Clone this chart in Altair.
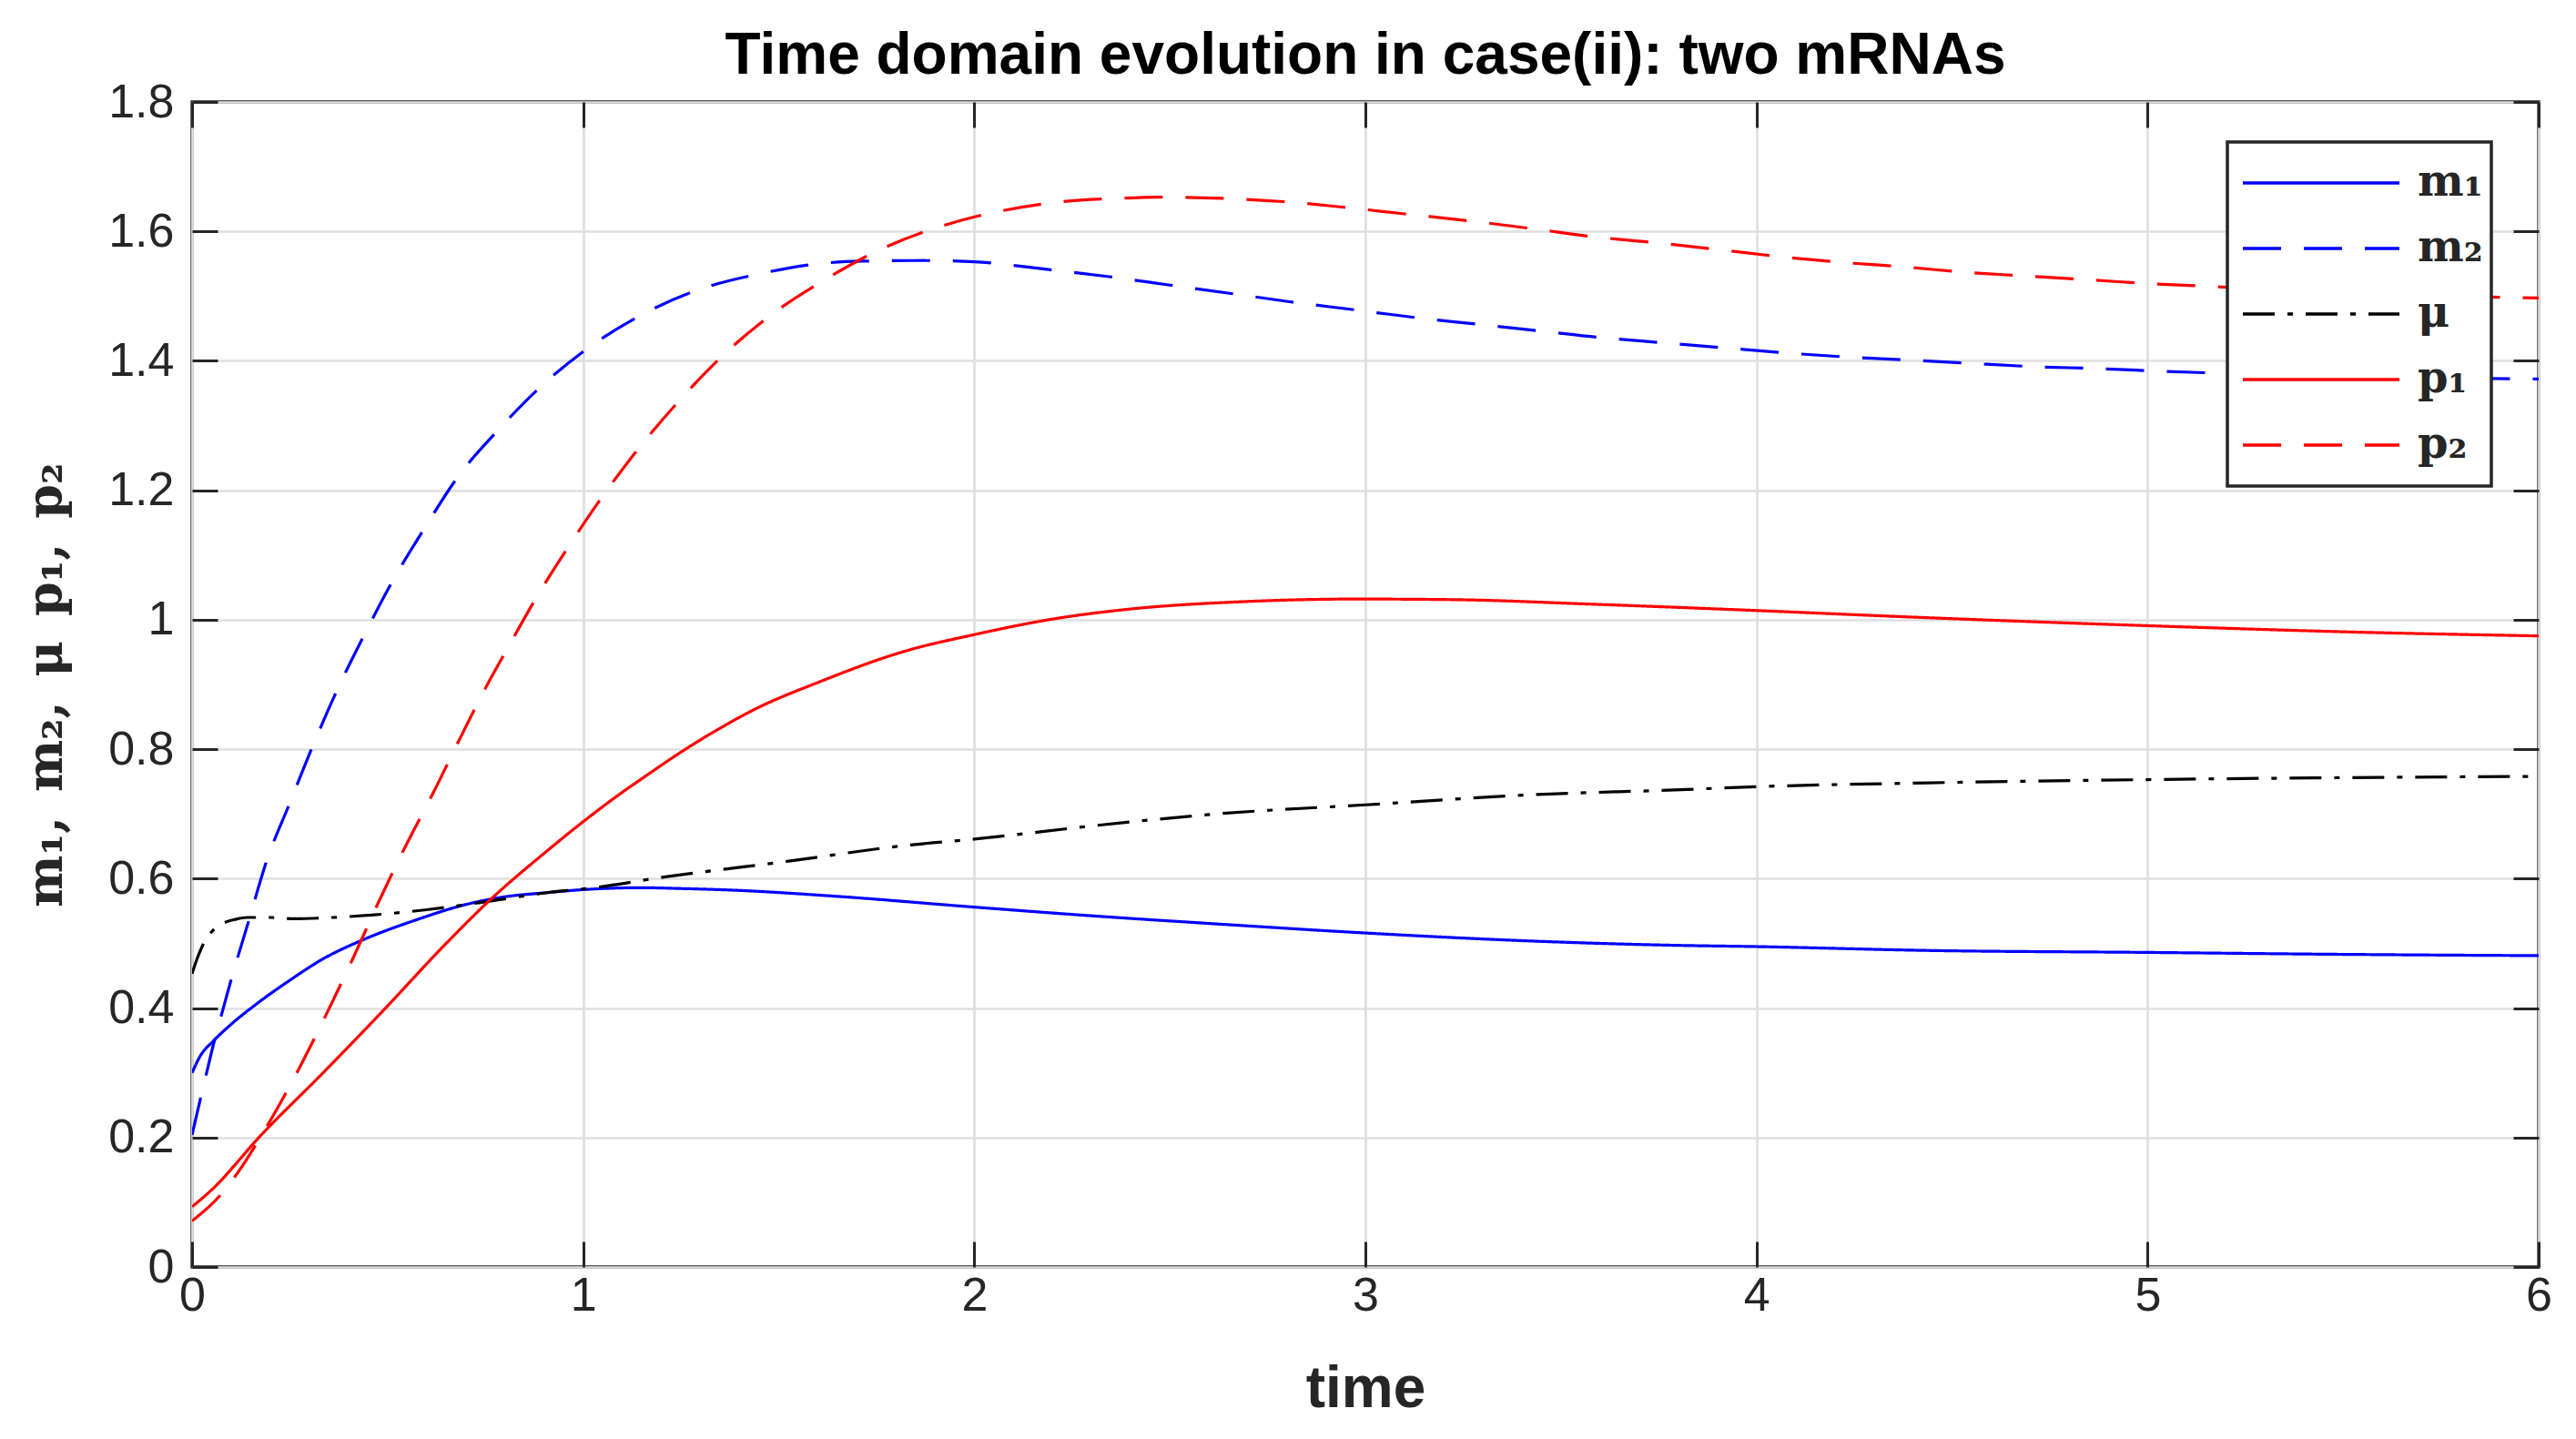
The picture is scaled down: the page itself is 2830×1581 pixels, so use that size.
import altair as alt
import pandas as pd

# DATA -------------------------------------------------------------------
t_m1 = [0, 0.02, 0.056, 0.1, 0.164, 0.25, 0.335, 0.443, 0.567, 0.7, 0.8, 0.9,
        1.0, 1.15, 1.23, 1.39, 1.64, 2.0, 2.29, 2.62, 3.0, 3.45, 3.79, 4.0,
        4.44, 5.0, 5.5, 6.0]
m1 = [0.30, 0.325, 0.35, 0.375, 0.406, 0.443, 0.476, 0.507, 0.535, 0.56, 0.572,
      0.578, 0.583, 0.586, 0.585, 0.582, 0.573, 0.556, 0.543, 0.53, 0.516, 0.503,
      0.497, 0.495, 0.489, 0.486, 0.483, 0.481]

t_m2 = [0, 0.021, 0.036, 0.056, 0.074, 0.1, 0.145, 0.19, 0.25, 0.308, 0.37,
        0.439, 0.513, 0.594, 0.68, 0.784, 0.893, 1.013, 1.149, 1.296, 1.448,
        1.6, 1.715, 1.87, 2.0, 2.19, 2.345, 2.5, 2.657, 2.81, 2.97, 3.126, 3.28,
        3.45, 3.6, 3.76, 3.92, 4.08, 4.23, 4.4, 4.55, 4.71, 4.875, 5.03, 5.18,
        5.5, 6.0]
m2 = [0.204, 0.259, 0.297, 0.347, 0.387, 0.444, 0.535, 0.626, 0.717, 0.804,
      0.89, 0.975, 1.06, 1.141, 1.221, 1.294, 1.361, 1.42, 1.471, 1.51, 1.534,
      1.55, 1.554, 1.555, 1.553, 1.541, 1.53, 1.517, 1.504, 1.491, 1.479, 1.467,
      1.457, 1.446, 1.436, 1.428, 1.42, 1.412, 1.406, 1.401, 1.396, 1.391,
      1.388, 1.384, 1.381, 1.376, 1.372]

t_mu = [0, 0.012, 0.025, 0.04, 0.052, 0.07, 0.087, 0.11, 0.14, 0.2, 0.26, 0.36,
        0.465, 0.6, 0.76, 0.916, 1.0, 1.214, 1.525, 1.835, 2.0, 2.31, 2.62, 3.0,
        3.44, 3.79, 4.0, 4.44, 5.0, 5.5, 6.0]
mu = [0.453, 0.475, 0.494, 0.51, 0.519, 0.528, 0.533, 0.537, 0.54, 0.54, 0.538,
      0.54, 0.544, 0.552, 0.565, 0.579, 0.584, 0.603, 0.627, 0.652, 0.661, 0.682,
      0.70, 0.714, 0.73, 0.737, 0.742, 0.748, 0.753, 0.756, 0.758]

t_p1 = [0, 0.048, 0.18, 0.335, 0.49, 0.645, 0.76, 0.904, 1.0, 1.099, 1.149,
        1.254, 1.366, 1.44, 1.6, 1.826, 2.0, 2.2, 2.39, 2.69, 2.98, 3.23, 3.58,
        3.97, 4.36, 4.75, 5.14, 5.525, 6.0]
p1 = [0.093, 0.118, 0.206, 0.30, 0.397, 0.497, 0.566, 0.641, 0.688, 0.733,
      0.754, 0.797, 0.838, 0.862, 0.903, 0.952, 0.977, 1.001, 1.016, 1.028,
      1.032, 1.031, 1.024, 1.015, 1.005, 0.996, 0.988, 0.981, 0.975]

t_p2 = [0, 0.071, 0.11, 0.195, 0.273, 0.343, 0.41, 0.474, 0.544, 0.617, 0.687,
        0.757, 0.804, 0.881, 0.967, 1.056, 1.149, 1.254, 1.362, 1.485, 1.62,
        1.76, 1.9, 2.056, 2.21, 2.368, 2.48, 2.635, 2.79, 2.95, 3.1, 3.27, 3.43,
        3.58, 3.75, 3.9, 4.06, 4.22, 4.38, 4.53, 4.69, 4.855, 5.01, 5.16, 5.5,
        6.0]
p2 = [0.071, 0.11, 0.14, 0.221, 0.306, 0.39, 0.475, 0.56, 0.648, 0.733, 0.819,
      0.902, 0.953, 1.035, 1.117, 1.196, 1.27, 1.344, 1.411, 1.473, 1.526,
      1.572, 1.605, 1.63, 1.645, 1.651, 1.653, 1.651, 1.646, 1.637, 1.627,
      1.616, 1.604, 1.592, 1.582, 1.572, 1.561, 1.552, 1.545, 1.537, 1.531,
      1.525, 1.519, 1.515, 1.505, 1.497]

series_names = ["m₁", "m₂", "μ", "p₁", "p₂"]
series_colors = ["#0000ff", "#0000ff", "#000000", "#ff0000", "#ff0000"]
series_dash = [[1, 0], [42, 25], [35, 14, 6, 14], [1, 0], [42, 25]]

x_ticks = [0, 1, 2, 3, 4, 5, 6]
y_ticks = [0, 0.2, 0.4, 0.6, 0.8, 1.0, 1.2, 1.4, 1.6, 1.8]

frames = []
for name, t, v in zip(series_names, [t_m1, t_m2, t_mu, t_p1, t_p2],
                      [m1, m2, mu, p1, p2]):
    frames.append(pd.DataFrame({"t": t, "value": v, "series": name}))
df = pd.concat(frames, ignore_index=True)

AXIS_GRAY = "#262626"
x_scale = alt.Scale(domain=[0, 6], nice=False, zero=False)
y_scale = alt.Scale(domain=[0, 1.8], nice=False, zero=False)

legend = alt.Legend(
    title=None, orient="none", legendX=2236, legendY=44, direction="vertical",
    symbolType="stroke", symbolSize=29584, symbolStrokeWidth=3.5,
    clipHeight=72, rowPadding=0, padding=9, symbolOffset=6, labelOffset=18,
    labelFont="DejaVu Serif", labelFontSize=48, labelFontWeight="bold",
    labelColor=AXIS_GRAY, labelExpr="datum.label + '\u2002'",
    fillColor="white", strokeColor=AXIS_GRAY,
)

# MAIN LINES + bottom/left axes (inward ticks via negative offset) ---------
lines = alt.Chart(df).mark_line(strokeWidth=3.2, clip=True, interpolate="monotone").encode(
    x=alt.X("t:Q", scale=x_scale, axis=alt.Axis(
        orient="bottom", values=x_ticks, format="d", title="time",
        offset=-28, tickSize=28, tickWidth=3, tickColor=AXIS_GRAY, domain=False,
        labelPadding=6, labelFlush=False, labelFont="Liberation Sans",
        labelFontSize=52, labelColor=AXIS_GRAY, titleFont="Liberation Sans",
        titleFontSize=64, titleFontWeight="bold", titleColor=AXIS_GRAY,
        titlePadding=45, grid=True, gridColor="#dfdfdf", gridWidth=2.7)),
    y=alt.Y("value:Q", scale=y_scale, axis=alt.Axis(
        orient="left", values=y_ticks, format=".1~f",
        title="m₁,\u2002m₂,\u2002μ\u2002p₁,\u2002p₂",
        offset=-28, tickSize=28, tickWidth=3, tickColor=AXIS_GRAY, domain=False,
        labelPadding=20, labelFlush=False, labelFont="Liberation Sans",
        labelFontSize=52, labelColor=AXIS_GRAY, titleFont="DejaVu Serif",
        titleFontSize=54, titleFontWeight="bold", titleColor=AXIS_GRAY,
        titlePadding=40, grid=True, gridColor="#dfdfdf", gridWidth=2.7)),
    color=alt.Color("series:N", title=None,
                    scale=alt.Scale(domain=series_names, range=series_colors),
                    legend=legend),
    strokeDash=alt.StrokeDash("series:N", title=None,
                              scale=alt.Scale(domain=series_names, range=series_dash),
                              legend=legend),
)

# MIRRORED TICKS on top/right ---------------------------------------------
mirror = alt.Chart(df).mark_point(opacity=0).encode(
    x=alt.X("t:Q", scale=x_scale, title=None, axis=alt.Axis(
        orient="top", values=x_ticks, labels=False, domain=False, grid=False,
        offset=-28, tickSize=28, tickWidth=3, tickColor=AXIS_GRAY)),
    y=alt.Y("value:Q", scale=y_scale, title=None, axis=alt.Axis(
        orient="right", values=y_ticks, labels=False, domain=False, grid=False,
        offset=-28, tickSize=28, tickWidth=3, tickColor=AXIS_GRAY)),
)

chart = alt.layer(lines, mirror).resolve_axis(
    x="independent", y="independent"
).properties(
    width=2578, height=1280,
    title=alt.TitleParams(
        text="Time domain evolution in case(ii): two mRNAs",
        font="Liberation Sans", fontSize=64, fontWeight="bold",
        color="#000000", offset=17, dy=25, anchor="middle"),
    autosize=alt.AutoSizeParams(type="none"),
    padding={"left": 203, "top": 104, "right": 33, "bottom": 181},
).configure_view(
    stroke=AXIS_GRAY, strokeWidth=3.3
).configure_legend(
    strokeWidth=3.5
)

chart.save("out.html", embed_options={"renderer": "svg", "actions": False})
